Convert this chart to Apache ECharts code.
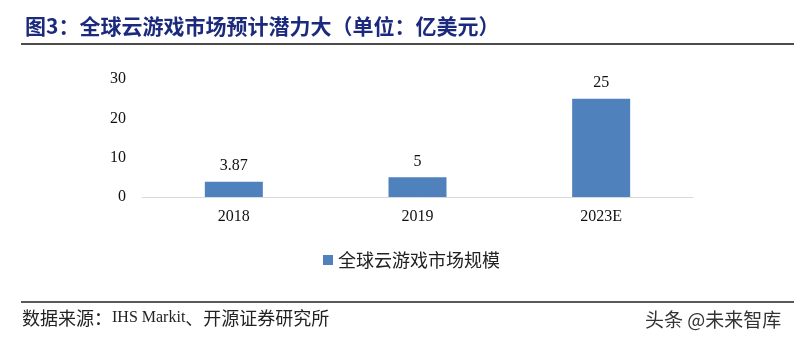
<!DOCTYPE html>
<html lang="zh">
<head>
    <meta charset="UTF-8">
    <title>全球云游戏市场</title>
    <script src="https://cdn.jsdelivr.net/npm/echarts@6/dist/echarts.min.js"></script>
    <style>
        html, body { margin: 0; padding: 0; background: #fff; }
        #main { width: 802px; height: 343px; }
    </style>
</head>
<body>
<div id="main"></div>
<script>
    // 数据
    var years = ['2018', '2019', '2023E'];
    var marketSize = [3.87, 5, 25];
    var yTicks = [0, 10, 20, 30];
    var seriesName = '全球云游戏市场规模';

    var myChart = echarts.init(document.getElementById('main'));
    var serif = '"Liberation Serif", "Times New Roman", "Noto Sans CJK SC", serif';
    var cjk = '"Noto Sans CJK SC", sans-serif';

    var option = {
        backgroundColor: '#fff',
        title: {
            text: '图3：全球云游戏市场预计潜力大（单位：亿美元）',
            left: 20,
            top: 11,
            textStyle: {
                color: '#1c2a7d',
                fontSize: 21,
                fontWeight: 'bold',
                fontFamily: cjk
            }
        },
        grid: {
            left: 142,
            right: 109,
            top: 79,
            bottom: 146
        },
        legend: {
            data: [seriesName],
            top: 246,
            left: 318,
            itemWidth: 10,
            itemHeight: 10,
            icon: 'rect',
            itemGap: 6,
            textStyle: {
                fontSize: 18,
                color: '#222',
                fontFamily: cjk
            }
        },
        xAxis: {
            type: 'category',
            data: years,
            axisLine: { lineStyle: { color: '#d9d9d9', width: 1 } },
            axisTick: { show: false },
            axisLabel: {
                color: '#111',
                fontSize: 16,
                fontFamily: serif,
                margin: 12
            }
        },
        yAxis: {
            type: 'value',
            min: yTicks[0],
            max: yTicks[yTicks.length - 1],
            interval: 10,
            splitLine: { show: false },
            axisLine: { show: false },
            axisTick: { show: false },
            axisLabel: {
                color: '#111',
                fontSize: 16,
                fontFamily: serif,
                margin: 16
            }
        },
        series: [{
            name: seriesName,
            type: 'bar',
            data: marketSize,
            barWidth: 58,
            itemStyle: { color: '#4f81bd' },
            label: {
                show: true,
                position: 'top',
                distance: 8,
                color: '#111',
                fontSize: 16,
                fontFamily: serif
            }
        }],
        graphic: [
            {
                type: 'line',
                shape: { x1: 21, y1: 44, x2: 794, y2: 44 },
                style: { stroke: '#111', lineWidth: 1.5 }
            },
            {
                type: 'line',
                shape: { x1: 21, y1: 302, x2: 794, y2: 302 },
                style: { stroke: '#222', lineWidth: 1.5 }
            },
            {
                type: 'text',
                left: 22,
                top: 309,
                style: {
                    text: '{c|数据来源：}{l|IHS Markit}{c|、开源证券研究所}',
                    rich: {
                        c: { fontSize: 18, fontFamily: cjk, fill: '#222' },
                        l: { fontSize: 16, fontFamily: serif, fill: '#222' }
                    }
                }
            },
            {
                type: 'text',
                left: 645,
                top: 310,
                style: {
                    text: '头条 @未来智库',
                    fill: '#333',
                    fontSize: 19,
                    fontFamily: cjk
                }
            }
        ]
    };

    myChart.setOption(option);
</script>
</body>
</html>
